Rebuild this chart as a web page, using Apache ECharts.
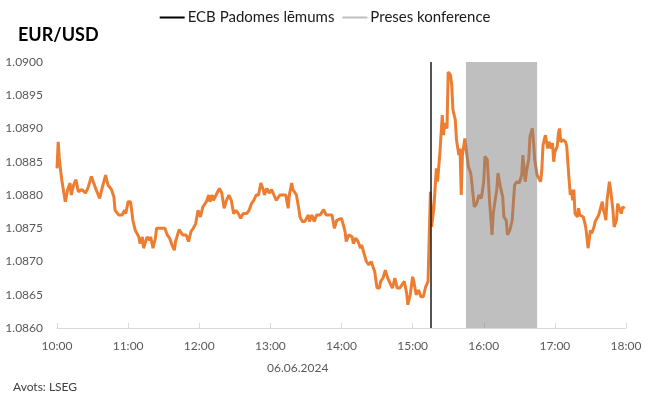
<!DOCTYPE html>
<html lang="lv">

<head>
    <meta charset="UTF-8">
    <title>EUR/USD</title>
    <style>
        html, body { margin: 0; padding: 0; background: #fff; }
        #main { width: 650px; height: 397px; }
    </style>
</head>

<body>
    <div id="main"></div>
</body>
<script src="https://cdn.jsdelivr.net/npm/echarts@6/dist/echarts.min.js"></script>
<script>
    // minūtes kopš 10:00 un EUR/USD kurss (06.06.2024)
    const minute = [
        0, 1, 2, 4, 7, 9, 11, 12, 14, 16, 18, 21, 24, 26, 29, 31, 33, 36, 38, 41,
        43, 46, 48, 49, 52, 55, 57, 58, 60, 62, 63, 64, 66, 69, 70, 72, 73, 76, 78, 79,
        81, 83, 84, 88, 91, 93, 95, 97, 99, 100, 103, 106, 109, 111, 113, 115, 117, 119, 121, 123,
        126, 128, 129, 131, 132, 135, 137, 139, 141, 143, 145, 147, 149, 151, 153, 155, 157, 160, 162, 164,
        166, 168, 170, 172, 174, 175, 177, 179, 181, 183, 185, 188, 191, 193, 195, 196, 198, 199, 202, 204,
        205, 207, 209, 212, 213, 215, 217, 219, 222, 225, 227, 232, 234, 236, 237, 240, 242, 243, 244, 246,
        249, 250, 252, 254, 256, 257, 259, 261, 263, 265, 267, 268, 270, 272, 273, 275, 277, 279, 281, 283,
        285, 287, 289, 291, 293, 295, 296, 298, 300, 301, 303, 305, 307, 309, 311, 313, 314, 315, 316, 318,
        320, 321, 323, 325, 326, 327, 329, 330, 332, 333, 334, 336, 337, 339, 340, 341, 342, 344, 347, 349,
        350, 352, 354, 356, 358, 360, 361, 363, 364, 365, 367, 368, 370, 371, 372, 374, 376, 377, 379, 380,
        382, 384, 386, 388, 390, 392, 393, 395, 396, 398, 399, 401, 402, 403, 405, 408, 409, 410, 412, 414,
        415, 417, 418, 419, 420, 422, 423, 424, 425, 427, 429, 430, 432, 433, 434, 435, 436, 437, 439, 440,
        441, 444, 446, 447, 448, 450, 451, 453, 454, 455, 457, 458, 460, 461, 462, 463, 464, 466, 467, 469,
        470, 472, 473, 474, 476, 477, 479
    ];
    const rate = [
        1.08840, 1.08880, 1.08853, 1.08823, 1.08790, 1.08808, 1.08818, 1.08800, 1.08815, 1.08823,
        1.08805, 1.08808, 1.08803, 1.08810, 1.08828, 1.08818, 1.08808, 1.08795, 1.08810, 1.08830,
        1.08815, 1.08808, 1.08797, 1.08777, 1.08770, 1.08770, 1.08777, 1.08772, 1.08790, 1.08790,
        1.08777, 1.08762, 1.08747, 1.08737, 1.08727, 1.08737, 1.08720, 1.08737, 1.08732, 1.08737,
        1.08720, 1.08735, 1.08750, 1.08750, 1.08750, 1.08740, 1.08735, 1.08725, 1.08717, 1.08730,
        1.08748, 1.08740, 1.08740, 1.08730, 1.08745, 1.08750, 1.08757, 1.08777, 1.08767, 1.08782,
        1.08790, 1.08800, 1.08790, 1.08800, 1.08792, 1.08803, 1.08810, 1.08803, 1.08780, 1.08792,
        1.08800, 1.08792, 1.08772, 1.08777, 1.08772, 1.08765, 1.08772, 1.08772, 1.08777, 1.08787,
        1.08792, 1.08800, 1.08800, 1.08818, 1.08808, 1.08800, 1.08810, 1.08803, 1.08808, 1.08800,
        1.08792, 1.08800, 1.08800, 1.08800, 1.08780, 1.08800, 1.08818, 1.08808, 1.08800, 1.08779,
        1.08767, 1.08760, 1.08760, 1.08770, 1.08760, 1.08770, 1.08760, 1.08770, 1.08770, 1.08778,
        1.08770, 1.08770, 1.08750, 1.08762, 1.08760, 1.08765, 1.08752, 1.08745, 1.08730, 1.08740,
        1.08737, 1.08727, 1.08735, 1.08730, 1.08720, 1.08725, 1.08712, 1.08700, 1.08695, 1.08700,
        1.08690, 1.08685, 1.08660, 1.08660, 1.08670, 1.08675, 1.08687, 1.08675, 1.08667, 1.08660,
        1.08675, 1.08660, 1.08660, 1.08665, 1.08670, 1.08652, 1.08635, 1.08650, 1.08677, 1.08670,
        1.08650, 1.08657, 1.08647, 1.08647, 1.08662, 1.08670, 1.08670, 1.08805, 1.08752, 1.08782,
        1.08840, 1.08820, 1.08863, 1.08920, 1.08890, 1.08908, 1.08900, 1.08985, 1.08980, 1.08965,
        1.08928, 1.08913, 1.08883, 1.08860, 1.08870, 1.08800, 1.08860, 1.08885, 1.08843, 1.08833,
        1.08818, 1.08782, 1.08787, 1.08800, 1.08795, 1.08820, 1.08858, 1.08853, 1.08820, 1.08788,
        1.08740, 1.08772, 1.08797, 1.08808, 1.08833, 1.08813, 1.08797, 1.08767, 1.08762, 1.08740,
        1.08747, 1.08762, 1.08815, 1.08820, 1.08818, 1.08830, 1.08860, 1.08820, 1.08835, 1.08855,
        1.08888, 1.08900, 1.08880, 1.08853, 1.08830, 1.08820, 1.08838, 1.08875, 1.08890, 1.08870,
        1.08880, 1.08870, 1.08878, 1.08850, 1.08865, 1.08873, 1.08893, 1.08900, 1.08880, 1.08883,
        1.08880, 1.08873, 1.08823, 1.08800, 1.08808, 1.08792, 1.08808, 1.08772, 1.08767, 1.08780,
        1.08770, 1.08767, 1.08752, 1.08737, 1.08720, 1.08747, 1.08742, 1.08752, 1.08760, 1.08760,
        1.08770, 1.08777, 1.08790, 1.08777, 1.08772, 1.08762, 1.08792, 1.08820, 1.08808, 1.08777,
        1.08752, 1.08762, 1.08787, 1.08790, 1.08772, 1.08782, 1.08780
    ];
    // notikumi (minūtes kopš 10:00)
    const ecbDecision = 315;           // 15:15
    const pressConference = [345, 405]; // 15:45 - 16:45
    const dateLabel = '06.06.2024';
    const sourceLabel = 'Avots: LSEG';

    const font = 'Lato, "Open Sans", sans-serif';
    const myChart = echarts.init(document.getElementById('main'));

    function hhmm(m) {
        let h = 10 + Math.floor(m / 60);
        let mm = m % 60;
        return h + ':' + (mm < 10 ? '0' : '') + mm;
    }

    let option = {
        animation: false,
        textStyle: { fontFamily: font },
        title: {
            text: 'EUR/USD',
            left: 13,
            top: 21,
            textStyle: { fontFamily: font, fontSize: 18, fontWeight: 'bold', color: '#000' }
        },
        legend: {
            top: 5,
            left: 'center',
            icon: 'rect',
            itemWidth: 25,
            itemHeight: 2,
            itemGap: 8,
            textStyle: { fontFamily: font, fontSize: 15, color: '#1a1a1a', padding: [0, 0, 0, -2] },
            data: ['ECB Padomes lēmums', 'Preses konference']
        },
        grid: { left: 57, right: 24, top: 62, bottom: 69 },
        xAxis: {
            type: 'value',
            min: 0,
            max: 480,
            interval: 60,
            splitLine: { show: false },
            axisLine: { lineStyle: { color: '#d9d9d9', width: 1 } },
            axisTick: { inside: true, length: 5, lineStyle: { color: '#d9d9d9' } },
            axisLabel: {
                margin: 12,
                fontSize: 12,
                color: '#595959',
                fontFamily: font,
                formatter: v => hhmm(v)
            }
        },
        yAxis: {
            type: 'value',
            min: 1.0860,
            max: 1.0900,
            interval: 0.0005,
            splitLine: { show: false },
            axisLine: { show: false },
            axisTick: { show: false },
            axisLabel: {
                margin: 14,
                fontSize: 12,
                color: '#595959',
                fontFamily: font,
                formatter: v => v.toFixed(4)
            }
        },
        graphic: [
            {
                type: 'text', left: 267, top: 362,
                style: { text: dateLabel, font: '12px ' + font, fill: '#595959' }
            },
            {
                type: 'text', left: 13, top: 381,
                style: { text: sourceLabel, font: '12px ' + font, fill: '#404040' }
            }
        ],
        series: [
            {
                name: 'EUR/USD',
                type: 'line',
                z: 2,
                showSymbol: false,
                symbol: 'none',
                lineStyle: { color: '#ed7d31', width: 3 },
                itemStyle: { color: '#ed7d31' },
                data: minute.map((m, i) => [m, rate[i]])
            },
            {
                name: 'Preses konference',
                type: 'line',
                z: 3,
                data: [],
                itemStyle: { color: '#bfbfbf' },
                lineStyle: { color: '#bfbfbf' },
                markArea: {
                    silent: true,
                    z: 10,
                    itemStyle: { color: 'rgba(128,128,128,0.5)' },
                    data: [[{ xAxis: pressConference[0] }, { xAxis: pressConference[1] }]]
                }
            },
            {
                name: 'ECB Padomes lēmums',
                type: 'line',
                z: 4,
                data: [],
                itemStyle: { color: '#000' },
                lineStyle: { color: '#000' },
                markLine: {
                    silent: true,
                    z: 11,
                    symbol: 'none',
                    label: { show: false },
                    lineStyle: { color: '#1a1a1a', width: 1.5, type: 'solid' },
                    data: [{ xAxis: ecbDecision }]
                }
            }
        ]
    };

    myChart.setOption(option);
</script>

</html>
